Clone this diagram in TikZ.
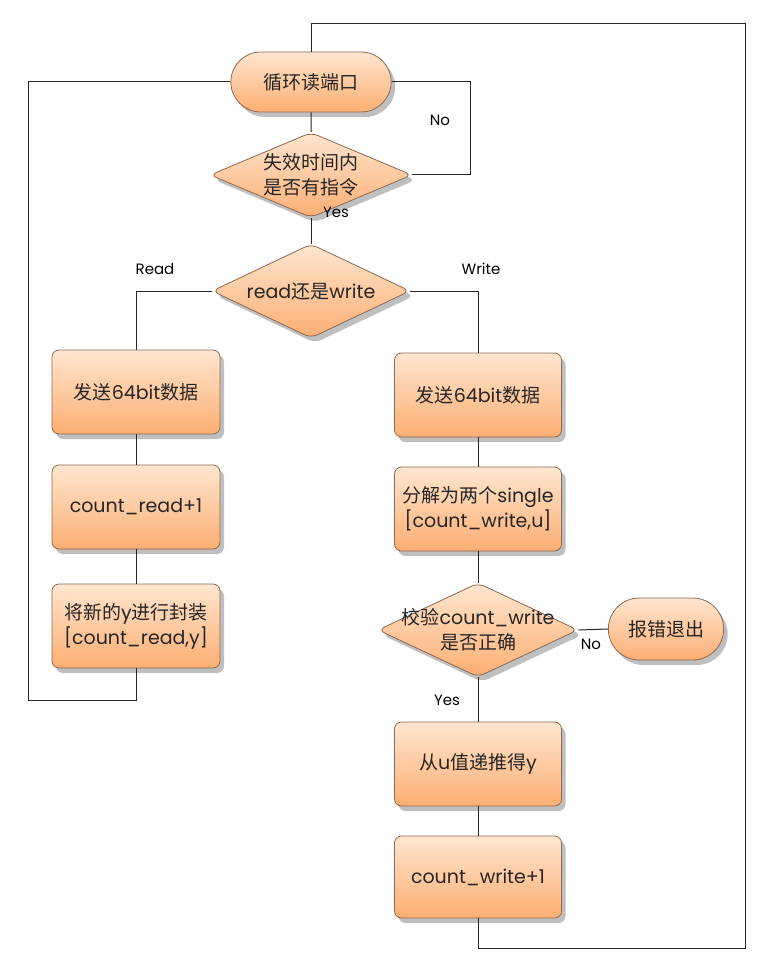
\documentclass[tikz,border=0pt]{standalone}
\usepackage{fontspec}
\setmainfont{Poppins}
\newfontfamily\cjk{Noto Sans CJK SC}
\usetikzlibrary{shapes.geometric, shapes.misc, shadows}

\definecolor{fillTop}{RGB}{255,230,208}
\definecolor{fillBot}{RGB}{252,174,114}
\definecolor{rim}{RGB}{140,105,80}

\tikzset{
  blk/.style={draw=rim, line width=0.8pt, top color=fillTop, bottom color=fillBot,
    drop shadow={shadow xshift=4pt, shadow yshift=-5pt, opacity=0.25, fill=black},
    font=\fontsize{19}{25}\selectfont, text=black!85, align=center},
  box/.style={blk, rectangle, rounded corners=7pt, minimum width=167pt, minimum height=84pt},
  term/.style={blk, rounded rectangle, minimum height=60pt},
  choice/.style={blk, diamond, rounded corners=7pt, inner sep=0pt},
  inside/.style={font=\fontsize{19}{25}\selectfont, text=black!85, align=center},
  lbl/.style={font=\fontsize{15}{17}\selectfont, text=black},
  line/.style={draw=black!85, line width=1pt}
}

\begin{document}
\begin{tikzpicture}[x=1pt,y=-1pt]
\useasboundingbox (0,0) rectangle (780,976);
% main column
\node[term, minimum width=167pt] (start) at (311,82) {\cjk 循环读端口};
\node[choice, minimum width=202pt, minimum height=85pt,
  label={[inside]center:{\cjk 失效时间内}\\{\cjk 是否有指令}}] (chk) at (311,175) {};
\node[choice, minimum width=198pt, minimum height=94pt,
  label={[inside]center:read{\cjk 还是}write}] (rw) at (311,291) {};
% read branch
\node[box, minimum width=168pt] (sendR) at (136,392) {{\cjk 发送}64bit{\cjk 数据}};
\node[box, minimum width=168pt] (cntR) at (136,507) {count\_read+1};
\node[box, minimum width=168pt] (pack) at (136,626) {{\cjk 将新的}y{\cjk 进行封装}\\{[}count\_read,y{]}};
% write branch
\node[box] (sendW) at (478,395) {{\cjk 发送}64bit{\cjk 数据}};
\node[box] (split) at (478,509) {{\cjk 分解为两个}single\\{[}count\_write,u{]}};
\node[choice, minimum width=200pt, minimum height=94pt,
  label={[inside]center:{\cjk 校验}count\_write\\{\cjk 是否正确}}] (verify) at (478,630) {};
\node[term, minimum width=122pt, minimum height=62pt] (err) at (666,629) {\cjk 报错退出};
\node[box] (derive) at (478,764) {{\cjk 从}u{\cjk 值递推得}y};
\node[box, minimum height=82pt] (cntW) at (478,877) {count\_write+1};

% connectors
\draw[line] (start) -- (chk);
\draw[line] (chk) -- (rw);
\draw[line] (chk.east) -| (470,82) -- (start.east);
\draw[line] (rw.west) -| (sendR.north);
\draw[line] (rw.east) -| (sendW.north);
\draw[line] (sendR) -- (cntR);
\draw[line] (cntR) -- (pack);
\draw[line] (sendW) -- (split);
\draw[line] (split) -- (verify);
\draw[line] (verify) -- (derive);
\draw[line] (derive) -- (cntW);
\draw[line] (verify.east) -- (err.west);
\draw[line] (start.west) -| (28,700) -| (pack.south);
\draw[line] (start.north) -- (311,24) -| (745,948) -| (cntW.south);

% labels
\node[lbl] (no1) at (440,120) {No};
\node[lbl] (yes1) at (336,212) {Yes};
\node[lbl] (rd) at (155,269) {Read};
\node[lbl] (wr) at (481,269) {Write};
\node[lbl] (no2) at (591,644) {No};
\node[lbl] (yes2) at (447,700) {Yes};
\end{tikzpicture}
\end{document}
